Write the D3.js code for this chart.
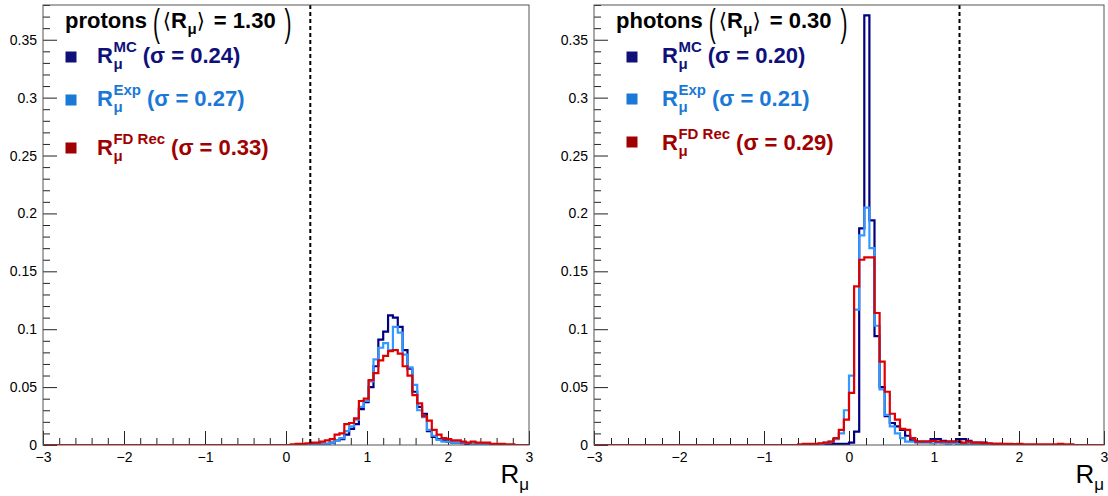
<!DOCTYPE html>
<html>
<head>
<meta charset="utf-8">
<script src="https://cdn.jsdelivr.net/npm/d3@7"></script>
<style>
  body { margin: 0; background: #fff; }
  svg { display: block; }
  text { font-family: "Liberation Sans", Arial, Helvetica, sans-serif; white-space: pre; }
</style>
</head>
<body>
<svg id="chart" width="1108" height="496"></svg>
<script>
// histogram binning: 100 bins on [-3, 3]
var binLow = -3, binHigh = 3, nBins = 100;

// protons: listed bins start at R = 0.06 (bins not listed are empty)
var protonsStart = 0.06;
var protonsMC = [0, 0, 0, 0, 0.0005, 0.0005, 0.001, 0.001, 0.002, 0.004,
  0.005, 0.009, 0.014, 0.018, 0.031, 0.037, 0.050, 0.068, 0.091, 0.098,
  0.112, 0.110, 0.102, 0.082, 0.066, 0.046, 0.033, 0.027, 0.012, 0.007,
  0.005, 0.004, 0.003, 0.002, 0.002, 0.0015, 0.001, 0.001, 0.001, 0.0005,
  0.0005, 0.0005];
var protonsExp = [0, 0, 0, 0, 0, 0.0005, 0.001, 0.001, 0.002, 0.004,
  0.006, 0.012, 0.016, 0.022, 0.033, 0.038, 0.055, 0.074, 0.084, 0.088,
  0.082, 0.102, 0.097, 0.078, 0.067, 0.052, 0.030, 0.024, 0.013, 0.008,
  0.0045, 0.003, 0.003, 0.002, 0.002, 0.002, 0.0015, 0.001, 0.001, 0.0005,
  0.0005];
var protonsFD = [0.0005, 0.001, 0.001, 0.0015, 0.002, 0.002, 0.003, 0.004, 0.005, 0.009,
  0.010, 0.018, 0.019, 0.023, 0.038, 0.040, 0.056, 0.062, 0.073, 0.077,
  0.081, 0.082, 0.079, 0.068, 0.060, 0.043, 0.036, 0.025, 0.021, 0.013,
  0.009, 0.006, 0.005, 0.004, 0.004, 0.003, 0.002, 0.003, 0.002, 0.002,
  0.002, 0.001, 0.001, 0.001, 0.0005, 0.0005];

// photons: listed bins start at R = -0.6
var photonsStart = -0.6;
var photonsMC = [0, 0, 0, 0, 0, 0, 0.0005, 0.001, 0.001, 0.001,
  0.002, 0.0115, 0.187, 0.371, 0.194, 0.094, 0.050, 0.025, 0.019, 0.016,
  0.013, 0.008, 0.004, 0.003, 0.003, 0.003, 0.005, 0.005, 0.0035, 0.003,
  0.003, 0.005, 0.005, 0.0035, 0.002, 0.002, 0.002, 0.001, 0.001, 0.001,
  0.0005, 0.0005, 0.0005];
var photonsExp = [0, 0, 0, 0.0005, 0.001, 0.002, 0.003, 0.005, 0.010, 0.030,
  0.060, 0.117, 0.181, 0.205, 0.170, 0.103, 0.048, 0.026, 0.016, 0.010,
  0.006, 0.003, 0.003, 0.002, 0.002, 0.002, 0.0015, 0.002, 0.0015, 0.001,
  0.0015, 0.001, 0.001, 0.001, 0.0005, 0.0005];
var photonsFD = [0.0005, 0.001, 0.001, 0.001, 0.0015, 0.002, 0.003, 0.006, 0.013, 0.022,
  0.045, 0.137, 0.160, 0.162, 0.162, 0.114, 0.072, 0.046, 0.027, 0.022,
  0.014, 0.013, 0.006, 0.003, 0.003, 0.003, 0.0035, 0.003, 0.003, 0.003,
  0.003, 0.003, 0.002, 0.003, 0.002, 0.002, 0.0015, 0.0015, 0.001, 0.001,
  0.001, 0.001, 0.0005, 0.001, 0.0005, 0.0005, 0.0005, 0.0005, 0.0005, 0.0005,
  0.0005, 0.001, 0.0005, 0.0005];

var xTicks = [-3, -2, -1, 0, 1, 2, 3];
var yTicks = [0, 0.05, 0.1, 0.15, 0.2, 0.25, 0.3, 0.35];
var seriesNames = ["MC", "Exp", "FD Rec"];
var protonsSigma = ["0.24", "0.27", "0.33"];
var photonsSigma = ["0.20", "0.21", "0.29"];

var lineColors = ["#000080", "#3399ff", "#e00000"];
var textColors = ["#10107a", "#1a78d6", "#a00000"];

var panels = [
  { name: "protons", mean: "1.30", cut: 0.3, start: protonsStart,
    series: [protonsMC, protonsExp, protonsFD], sigma: protonsSigma,
    x0: 43, x1: 529, legX: 28, textX: 54, rows: [[57, 63], [100, 106], [148, 155]] },
  { name: "photons", mean: "0.30", cut: 1.3, start: photonsStart,
    series: [photonsMC, photonsExp, photonsFD], sigma: photonsSigma,
    x0: 594, x1: 1104, legX: 38, textX: 68, rows: [[57, 63], [99, 106], [142, 150]] }
];

var frameTop = 5, frameBottom = 445;
var svg = d3.select("#chart");
var binW = (binHigh - binLow) / nBins;

// writes pieces one after another, R with sub/superscript stacked
function richText(g, x, y, parts, color) {
  var cx = x;
  parts.forEach(function(p) {
    if (p.space) { cx += p.space; return; }
    var sx = p.sx || 1;
    var t = g.append("text")
      .attr("transform", "translate(" + cx + "," + (y + (p.dy || 0)) + ") scale(" + sx + ",1)")
      .attr("font-size", p.size)
      .attr("font-weight", p.bold === false ? "normal" : "bold")
      .attr("fill", color)
      .text(p.t);
    if (p.family) t.style("font-family", p.family);
    cx += t.node().getComputedTextLength() * sx;
    if (p.sub || p.sup) {
      var w = 0;
      if (p.sub) {
        var s = g.append("text").attr("x", cx + 0.5).attr("y", y + 6)
          .attr("font-size", 15).attr("font-weight", "bold").attr("fill", color).text(p.sub);
        w = Math.max(w, s.node().getComputedTextLength());
      }
      if (p.sup) {
        var u = g.append("text").attr("x", cx + 0.5).attr("y", y - 11)
          .attr("font-size", 15).attr("font-weight", "bold").attr("fill", color).text(p.sup);
        w = Math.max(w, u.node().getComputedTextLength());
      }
      cx += w + 0.5;
    }
  });
  return cx;
}

panels.forEach(function(P, pi) {
  var x = d3.scaleLinear().domain([binLow, binHigh]).range([P.x0, P.x1]);
  var y = d3.scaleLinear().domain([0, 0.38]).range([frameBottom, frameTop]);
  var g = svg.append("g");

  var clipId = "clip" + pi;
  svg.append("clipPath").attr("id", clipId).append("rect")
    .attr("x", P.x0).attr("y", frameTop).attr("width", P.x1 - P.x0).attr("height", frameBottom - frameTop);

  // axes (ticks point inside the frame)
  var xMinor = d3.range(-3, 3.0001, 0.2).filter(function(v) { return Math.abs(v - Math.round(v)) > 1e-6; });
  var yMinor = d3.range(0, 0.3801, 0.01).filter(function(v) { return Math.abs(v * 20 - Math.round(v * 20)) > 1e-6; });

  var gx = g.append("g").attr("transform", "translate(0," + frameBottom + ")");
  gx.call(d3.axisBottom(x).tickValues(xTicks).tickSize(-14).tickPadding(7).tickFormat(d3.format("~g")));
  gx.append("g").call(d3.axisBottom(x).tickValues(xMinor).tickSize(-7).tickFormat(""));
  var gy = g.append("g").attr("transform", "translate(" + P.x0 + ",0)");
  gy.call(d3.axisLeft(y).tickValues(yTicks).tickSize(-14).tickPadding(6).tickFormat(d3.format("~g")));
  gy.append("g").call(d3.axisLeft(y).tickValues(yMinor).tickSize(-7).tickFormat(""));
  g.selectAll(".domain").remove();
  g.selectAll(".tick line").attr("stroke", "#222");
  g.selectAll(".tick text").attr("font-size", 14).attr("fill", "#000")
    .style("font-family", "'Liberation Sans', Arial, sans-serif");

  // histograms
  var line = d3.line().curve(d3.curveStepAfter)
    .x(function(d) { return x(d[0]); }).y(function(d) { return y(d[1]); });
  var hg = g.append("g").attr("clip-path", "url(#" + clipId + ")");
  P.series.forEach(function(vals, si) {
    var first = Math.round((P.start - binLow) / binW);
    var pts = d3.range(nBins).map(function(k) {
      var v = (k >= first && k - first < vals.length) ? vals[k - first] : 0;
      return [binLow + k * binW, v];
    });
    pts.push([binHigh, pts[nBins - 1][1]]);
    hg.append("path").attr("d", line(pts))
      .attr("fill", "none").attr("stroke", lineColors[si]).attr("stroke-width", 2.2);
  });

  // cut line
  g.append("line").attr("x1", x(P.cut)).attr("x2", x(P.cut))
    .attr("y1", frameTop).attr("y2", frameBottom)
    .attr("stroke", "#000").attr("stroke-width", 2).attr("stroke-dasharray", "4,3");

  // frame
  g.append("rect").attr("x", P.x0).attr("y", frameTop)
    .attr("width", P.x1 - P.x0).attr("height", frameBottom - frameTop)
    .attr("fill", "none").attr("stroke", "#555").attr("stroke-width", 1);

  // axis title
  var at = g.append("text").attr("x", P.x1).attr("y", 483)
    .attr("text-anchor", "end").attr("font-size", 26).attr("fill", "#000");
  at.append("tspan").text("R");
  at.append("tspan").attr("dy", 7).attr("font-size", 17).text("μ");

  // title
  richText(g, P.x0 + 22, 28, [
    { t: P.name, size: 22 },
    { space: 6 },
    { t: "(", size: 38, bold: false, dy: 8, sx: 0.55 },
    { space: 3 },
    { t: "⟨", size: 21, bold: false, family: "DejaVu Sans" },
    { t: "R", size: 22, sub: "μ" },
    { t: "⟩", size: 21, bold: false, family: "DejaVu Sans" },
    { space: 9 },
    { t: "= " + P.mean, size: 22 },
    { space: 9 },
    { t: ")", size: 38, bold: false, dy: 8, sx: 0.55 }
  ], "#000");

  // legend
  seriesNames.forEach(function(s, si) {
    var r = P.rows[si];
    g.append("rect").attr("x", P.x0 + P.legX - 5.5).attr("y", r[0] - 5.5)
      .attr("width", 11).attr("height", 11).attr("fill", textColors[si]);
    richText(g, P.x0 + P.textX, r[1], [
      { t: "R", size: 22, sub: "μ", sup: s },
      { space: 6 },
      { t: "(σ = " + P.sigma[si] + ")", size: 22 }
    ], textColors[si]);
  });
});
</script>
</body>
</html>
